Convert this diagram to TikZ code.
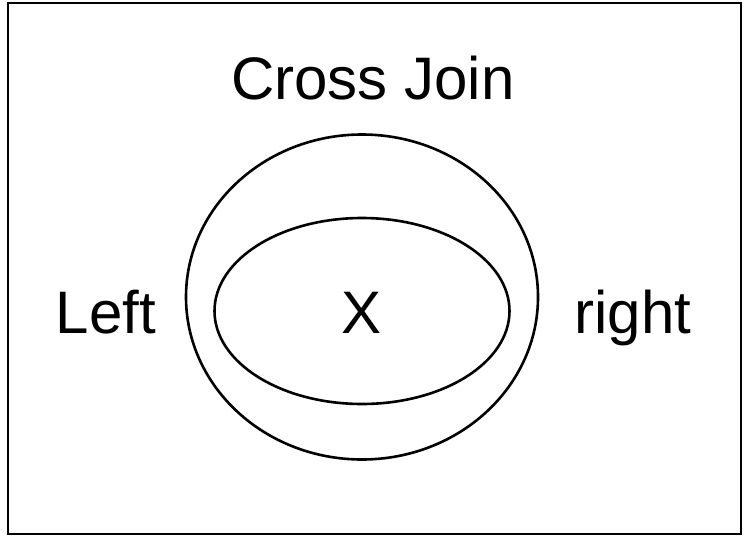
\documentclass[tikz,border=0pt]{standalone}
\usepackage{fontspec}
\setmainfont{Liberation Sans}
\usetikzlibrary{positioning, shapes.geometric}

\tikzset{
  ring/.style={draw, ellipse, line width=2.6pt, inner sep=0pt},
  label text/.style={font=\fontsize{60}{64}\selectfont, anchor=base, inner sep=0pt}
}

\begin{document}
\begin{tikzpicture}[x=1pt, y=-1pt]
    \useasboundingbox (0,0) rectangle (744,536);
    % frame
    \draw[line width=2.6pt] (8,3) rectangle (741,534);
    % the two sets
    \node[ring, minimum width=352pt, minimum height=325pt] (outer) at (362,297) {};
    \node[ring, minimum width=295pt, minimum height=186pt] (inner) at (362,311) {};
    % labels
    \node[label text] (title) at (373,99) {Cross Join};
    \node[label text] (left) at (106,333) {Left};
    \node[label text] (right) at (633,333) {right};
    \node[label text] (cross) at (inner.center |- 0,333) {X};
\end{tikzpicture}
\end{document}
